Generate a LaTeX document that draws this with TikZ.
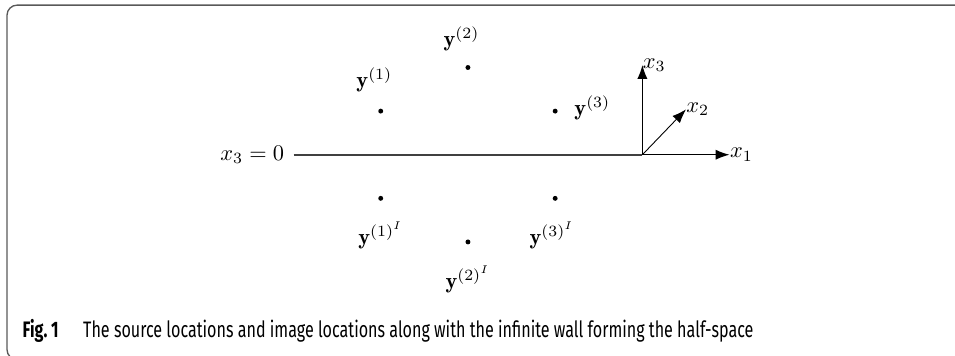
\documentclass[tikz,border=0pt]{standalone}
\usepackage{fontspec}
\usepackage{amsmath}
\usetikzlibrary{arrows.meta}
\usetikzlibrary{positioning}
\newfontfamily\capfont[FakeStretch=0.72]{Fira Sans}

\begin{document}
\begin{tikzpicture}[x=1.37cm, y=1.37cm, every node/.style={font=\normalsize},
		pt/.style={circle, fill, inner sep=0pt, minimum size=2.2pt},
		ax/.style={-{Latex[length=2.2mm, width=1.6mm]}, semithick}]
		\useasboundingbox (-7.35cm,2.43cm) rectangle (7.65cm,-3.16cm);
		% frame round figure and caption
		\draw[black!65, semithick, rounded corners=0.16cm] (-7.24cm,-3.22cm) rectangle (8.2cm,2.35cm);
		
		% wall x_3 = 0
		\coordinate (O) at (2,0);
		\coordinate (w) at (-2,0);
		\node[left=3pt of w, inner sep=1pt] (wlab) {$x_3 = 0$};
		\draw[black!75, thick] (w) -- (O);
		
		% sources
		\node[pt] (y1) at (-1,0.5) {};
		\node[pt] (y2) at (0,1) {};
		\node[pt] (y3) at (1,0.5) {};
		\node[above=2.4mm of y1, inner sep=0pt, xshift=-1mm] (l1) {$\mathbf{y}^{(1)}$};
		\node[above=2mm of y2, inner sep=0pt, xshift=-1mm] (l2) {$\mathbf{y}^{(2)}$};
		\node[right=2.5mm of y3, inner sep=0pt, yshift=0.5mm] (l3) {$\mathbf{y}^{(3)}$};
		
		% images
		\node[pt] (i1) at (-1,-0.5) {};
		\node[pt] (i2) at (0,-1) {};
		\node[pt] (i3) at (1,-0.5) {};
		\node[below=3.2mm of i1, inner sep=0pt] (li1) {$\mathbf{y}^{(1)^I}$};
		\node[below=3.2mm of i2, inner sep=0pt] (li2) {$\mathbf{y}^{(2)^I}$};
		\node[below=3.2mm of i3, inner sep=0pt, xshift=-0.5mm] (li3) {$\mathbf{y}^{(3)^I}$};
		
		% axes
		\coordinate (e1) at (3,0);
		\coordinate (e2) at (2.5,0.52);
		\coordinate (e3) at (2,1.03);
		\draw[ax] (O) -- (e1);
		\draw[ax, thin] (O) -- (e2);
		\draw[ax] (O) -- (e3);
		\node[right, inner sep=0pt] (x1) at (e1) {$x_1$};
		\node[right, inner sep=0pt] (x2) at (e2) {$x_2$};
		\node[right, inner sep=0pt] (x3) at (e3) {$x_3$};
		
		% caption
		\node[right, inner sep=0pt, font=\capfont\fontsize{10}{12}\selectfont] (cap) at (-7.0cm,-2.77cm)
		{\textbf{Fig.\,1}\hspace{1.1em}The source locations and image locations along with the infinite wall forming the half-space};
	\end{tikzpicture}
\end{document}
